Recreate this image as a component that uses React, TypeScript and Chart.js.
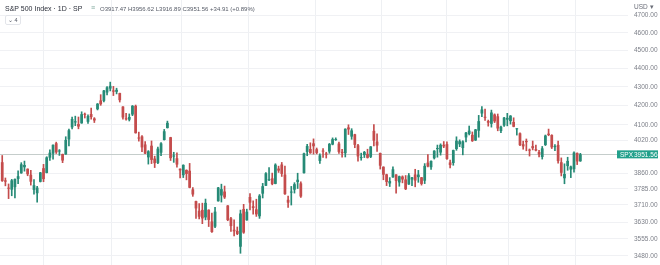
import { useEffect, useRef } from "react";
import { Chart, registerables } from "chart.js";

Chart.register(...registerables);

// Daily sessions, S&P 500 index
const dates = [
  "2022-06-28", "2022-06-29", "2022-06-30",
  "2022-07-01", "2022-07-05", "2022-07-06", "2022-07-07", "2022-07-08", "2022-07-11", "2022-07-12", "2022-07-13", "2022-07-14", "2022-07-15",
  "2022-07-18", "2022-07-19", "2022-07-20", "2022-07-21", "2022-07-22", "2022-07-25", "2022-07-26", "2022-07-27", "2022-07-28", "2022-07-29",
  "2022-08-01", "2022-08-02", "2022-08-03", "2022-08-04", "2022-08-05", "2022-08-08", "2022-08-09", "2022-08-10", "2022-08-11", "2022-08-12",
  "2022-08-15", "2022-08-16", "2022-08-17", "2022-08-18", "2022-08-19", "2022-08-22", "2022-08-23", "2022-08-24", "2022-08-25", "2022-08-26",
  "2022-08-29", "2022-08-30", "2022-08-31",
  "2022-09-01", "2022-09-02", "2022-09-06", "2022-09-07", "2022-09-08", "2022-09-09", "2022-09-12", "2022-09-13", "2022-09-14", "2022-09-15",
  "2022-09-16", "2022-09-19", "2022-09-20", "2022-09-21", "2022-09-22", "2022-09-23", "2022-09-26", "2022-09-27", "2022-09-28", "2022-09-29",
  "2022-09-30",
  "2022-10-03", "2022-10-04", "2022-10-05", "2022-10-06", "2022-10-07", "2022-10-10", "2022-10-11", "2022-10-12", "2022-10-13", "2022-10-14",
  "2022-10-17", "2022-10-18", "2022-10-19", "2022-10-20", "2022-10-21", "2022-10-24", "2022-10-25", "2022-10-26", "2022-10-27", "2022-10-28",
  "2022-10-31",
  "2022-11-01", "2022-11-02", "2022-11-03", "2022-11-04", "2022-11-07", "2022-11-08", "2022-11-09", "2022-11-10", "2022-11-11", "2022-11-14",
  "2022-11-15", "2022-11-16", "2022-11-17", "2022-11-18", "2022-11-21", "2022-11-22", "2022-11-23", "2022-11-25", "2022-11-28", "2022-11-29",
  "2022-11-30",
  "2022-12-01", "2022-12-02", "2022-12-05", "2022-12-06", "2022-12-07", "2022-12-08", "2022-12-09", "2022-12-12", "2022-12-13", "2022-12-14",
  "2022-12-15", "2022-12-16", "2022-12-19", "2022-12-20", "2022-12-21", "2022-12-22", "2022-12-23", "2022-12-27", "2022-12-28", "2022-12-29",
  "2022-12-30",
  "2023-01-03", "2023-01-04", "2023-01-05", "2023-01-06", "2023-01-09", "2023-01-10", "2023-01-11", "2023-01-12", "2023-01-13", "2023-01-17",
  "2023-01-18", "2023-01-19", "2023-01-20", "2023-01-23", "2023-01-24", "2023-01-25", "2023-01-26", "2023-01-27", "2023-01-30", "2023-01-31",
  "2023-02-01", "2023-02-02", "2023-02-03", "2023-02-06", "2023-02-07", "2023-02-08", "2023-02-09", "2023-02-10", "2023-02-13", "2023-02-14",
  "2023-02-15", "2023-02-16", "2023-02-17", "2023-02-21", "2023-02-22", "2023-02-23", "2023-02-24", "2023-02-27", "2023-02-28",
  "2023-03-01", "2023-03-02", "2023-03-03", "2023-03-06", "2023-03-07", "2023-03-08", "2023-03-09", "2023-03-10", "2023-03-13", "2023-03-14",
  "2023-03-15", "2023-03-16", "2023-03-17", "2023-03-20",
];

const opens = [
  3913.0, 3825.1, 3786.0,
  3781.0, 3792.6, 3832.0, 3858.9, 3888.3, 3880.9, 3851.9, 3779.7, 3764.0, 3818.0,
  3883.8, 3860.7, 3935.3, 3955.5, 4007.0, 3965.7, 3953.2, 3951.4, 4026.1, 4087.3,
  4112.4, 4104.2, 4108.0, 4154.9, 4115.9, 4155.9, 4133.1, 4181.0, 4227.4, 4225.0,
  4269.4, 4290.5, 4280.4, 4273.1, 4266.3, 4195.1, 4133.1, 4126.6, 4153.3, 4198.7,
  4034.6, 4041.3, 4000.7,
  3936.7, 3994.7, 3930.9, 3909.4, 3959.9, 4022.9, 4083.7, 4037.1, 3940.7, 3932.4,
  3881.0, 3849.9, 3875.2, 3871.4, 3782.4, 3727.1, 3682.7, 3686.4, 3651.9, 3687.0,
  3633.5,
  3609.8, 3726.5, 3753.3, 3772.0, 3706.7, 3647.5, 3595.9, 3590.8, 3520.4, 3690.4,
  3638.7, 3746.3, 3703.1, 3689.1, 3657.1, 3762.0, 3799.4, 3826.0, 3834.7, 3808.3,
  3881.9,
  3901.8, 3852.9, 3733.3, 3767.0, 3780.7, 3817.0, 3810.9, 3859.9, 3963.7, 3978.0,
  4006.4, 3976.8, 3919.3, 3966.4, 3956.2, 3965.5, 4000.3, 4023.3, 4005.4, 3964.2,
  3957.2,
  4087.1, 4040.2, 4052.0, 3996.6, 3933.3, 3947.8, 3954.2, 3939.3, 4069.4, 4015.5,
  3958.4, 3890.9, 3853.8, 3810.5, 3839.5, 3853.3, 3815.1, 3843.3, 3829.6, 3805.5,
  3829.1,
  3853.3, 3840.4, 3839.7, 3823.4, 3910.8, 3888.6, 3932.4, 3977.6, 3960.6, 3999.3,
  4002.3, 3911.8, 3909.0, 3978.1, 4001.7, 3982.7, 4036.1, 4053.7, 4049.3, 4020.9,
  4070.1, 4158.7, 4136.7, 4119.6, 4105.3, 4153.5, 4144.3, 4068.9, 4096.6, 4126.7,
  4119.5, 4114.8, 4077.4, 4057.0, 4001.8, 4018.6, 3973.2, 3992.4, 3977.2,
  3963.3, 3938.7, 3998.0, 4055.2, 4048.3, 3987.6, 3998.7, 3912.8, 3835.1, 3894.0,
  3876.7, 3878.9, 3958.7, 3917.47,
];

const highs = [
  3945.9, 3836.5, 3808.0,
  3829.8, 3832.2, 3870.9, 3910.6, 3918.5, 3880.9, 3873.4, 3829.4, 3796.4, 3863.6,
  3902.4, 3939.8, 3974.1, 3999.3, 4012.4, 3975.3, 3953.2, 4039.6, 4078.9, 4140.2,
  4145.0, 4140.5, 4167.7, 4161.3, 4151.6, 4186.6, 4137.3, 4211.0, 4257.9, 4280.5,
  4301.8, 4325.3, 4302.2, 4292.5, 4266.3, 4195.1, 4159.8, 4156.6, 4200.5, 4203.0,
  4063.0, 4045.0, 4015.4,
  3970.2, 4018.4, 3942.6, 3987.9, 4010.5, 4076.8, 4119.3, 4037.1, 3961.9, 3959.1,
  3881.0, 3900.4, 3876.0, 3907.1, 3790.8, 3727.1, 3715.7, 3717.5, 3736.7, 3687.0,
  3671.4,
  3698.4, 3791.9, 3806.9, 3797.9, 3706.7, 3652.2, 3640.7, 3608.3, 3685.4, 3712.0,
  3689.7, 3762.8, 3728.6, 3736.0, 3757.9, 3810.7, 3862.9, 3886.2, 3860.0, 3905.4,
  3893.7,
  3911.8, 3894.4, 3750.6, 3796.3, 3813.9, 3859.4, 3818.2, 3958.3, 4001.5, 4009.0,
  4028.8, 3983.1, 3954.3, 3979.9, 3962.0, 4005.9, 4033.8, 4034.0, 4012.3, 3976.8,
  4080.1,
  4100.5, 4080.5, 4052.5, 4001.5, 3957.6, 3966.4, 3977.0, 3990.7, 4101.0, 4053.8,
  3958.4, 3890.9, 3854.9, 3838.2, 3889.8, 3853.3, 3845.8, 3846.7, 3848.3, 3858.2,
  3839.9,
  3878.5, 3873.2, 3839.7, 3906.2, 3950.6, 3919.8, 3970.1, 3997.8, 4004.0, 4015.4,
  4014.2, 3922.9, 3973.0, 4039.3, 4023.9, 4019.6, 4061.6, 4094.2, 4063.9, 4077.2,
  4149.0, 4195.4, 4182.4, 4124.6, 4176.5, 4156.9, 4156.2, 4094.4, 4138.9, 4159.8,
  4148.1, 4136.5, 4081.5, 4059.0, 4017.4, 4028.3, 3978.3, 4018.1, 3997.5,
  3971.7, 3990.8, 4048.3, 4078.5, 4050.0, 4000.4, 4017.8, 3934.1, 3905.1, 3937.3,
  3894.3, 3964.5, 3958.9, 3956.62,
];

const lows = [
  3820.1, 3799.0, 3738.7,
  3752.1, 3742.1, 3809.4, 3858.9, 3869.3, 3847.2, 3802.4, 3759.1, 3721.6, 3817.2,
  3818.6, 3860.7, 3922.0, 3927.6, 3955.8, 3946.3, 3910.7, 3951.4, 3993.0, 4079.2,
  4096.0, 4079.8, 4108.0, 4135.4, 4107.3, 4129.0, 4112.1, 4177.3, 4201.4, 4219.8,
  4256.9, 4277.8, 4253.1, 4262.0, 4218.7, 4129.9, 4124.0, 4120.0, 4147.6, 4057.7,
  4017.4, 3965.2, 3954.5,
  3903.7, 3906.2, 3886.8, 3906.0, 3944.8, 4022.9, 4083.7, 3921.3, 3912.2, 3888.3,
  3837.1, 3838.5, 3827.5, 3789.5, 3749.4, 3647.5, 3644.8, 3623.3, 3640.6, 3610.4,
  3584.1,
  3604.9, 3726.5, 3722.7, 3739.2, 3636.7, 3588.1, 3568.5, 3573.9, 3491.6, 3579.7,
  3638.7, 3686.5, 3666.5, 3656.4, 3647.4, 3741.7, 3799.4, 3824.1, 3803.8, 3808.3,
  3863.2,
  3843.8, 3758.7, 3698.2, 3708.8, 3764.7, 3786.3, 3744.2, 3859.9, 3944.8, 3956.4,
  3953.2, 3954.3, 3906.5, 3936.0, 3933.3, 3956.9, 3998.7, 4020.8, 3955.8, 3937.7,
  3938.6,
  4050.9, 4026.6, 3984.5, 3918.4, 3922.7, 3935.8, 3933.0, 3935.3, 3993.0, 3965.7,
  3879.5, 3827.9, 3800.0, 3795.6, 3839.5, 3764.5, 3797.0, 3813.2, 3780.8, 3805.5,
  3800.3,
  3794.3, 3815.8, 3802.4, 3809.6, 3890.4, 3877.3, 3928.5, 3937.6, 3947.7, 3984.6,
  3926.6, 3885.5, 3897.9, 3971.6, 3989.8, 3949.1, 4013.3, 4048.7, 4015.6, 4020.4,
  4037.2, 4141.9, 4123.4, 4093.4, 4088.4, 4111.7, 4069.7, 4060.8, 4092.7, 4095.0,
  4104.0, 4089.9, 4048.0, 3995.2, 3976.9, 3969.2, 3943.1, 3973.6, 3969.0,
  3939.1, 3928.2, 3995.2, 4044.6, 3980.3, 3969.8, 3908.7, 3846.3, 3808.9, 3873.6,
  3838.2, 3864.1, 3901.3, 3916.89,
];

const closes = [
  3821.6, 3818.8, 3785.4,
  3825.3, 3831.4, 3845.1, 3902.6, 3899.4, 3854.4, 3818.8, 3801.8, 3790.4, 3863.2,
  3830.9, 3936.7, 3959.9, 3999.0, 3961.6, 3966.8, 3921.1, 4023.6, 4072.4, 4130.3,
  4118.6, 4091.2, 4155.2, 4151.9, 4145.2, 4140.1, 4122.5, 4210.2, 4207.3, 4280.2,
  4297.1, 4305.2, 4274.0, 4283.7, 4228.5, 4138.0, 4128.7, 4140.8, 4199.1, 4057.7,
  4030.6, 3986.2, 3955.0,
  3966.9, 3924.3, 3908.2, 3979.9, 4006.2, 4067.4, 4110.4, 3932.7, 3946.0, 3901.4,
  3873.3, 3899.9, 3855.9, 3789.9, 3758.0, 3693.2, 3655.0, 3647.3, 3719.0, 3640.5,
  3585.6,
  3678.4, 3790.9, 3783.3, 3744.5, 3639.7, 3612.4, 3588.8, 3577.0, 3669.9, 3583.1,
  3678.0, 3720.0, 3695.2, 3665.8, 3752.8, 3797.3, 3859.1, 3830.6, 3807.3, 3901.1,
  3872.0,
  3856.1, 3759.7, 3719.9, 3770.6, 3806.8, 3828.1, 3748.6, 3956.4, 3992.9, 3957.3,
  3991.7, 3958.8, 3946.6, 3965.3, 3949.9, 4003.6, 4027.3, 4026.1, 3963.9, 3957.6,
  4080.1,
  4076.6, 4071.7, 3998.8, 3941.3, 3933.9, 3963.5, 3934.4, 3990.6, 4019.7, 3995.3,
  3895.8, 3852.4, 3817.7, 3821.6, 3878.4, 3822.4, 3844.8, 3829.3, 3783.2, 3849.3,
  3839.5,
  3824.1, 3853.0, 3808.1, 3895.1, 3892.1, 3919.3, 3969.6, 3983.2, 3999.1, 3991.0,
  3928.9, 3898.9, 3972.6, 4019.8, 4017.0, 4016.2, 4060.4, 4070.6, 4017.8, 4076.6,
  4119.2, 4179.8, 4136.5, 4111.1, 4164.0, 4117.9, 4081.5, 4090.5, 4137.3, 4136.1,
  4147.6, 4090.4, 4079.1, 3997.3, 3991.1, 4012.3, 3970.0, 3982.2, 3970.2,
  3951.4, 3981.4, 4045.6, 4048.4, 3986.4, 3992.0, 3918.3, 3861.6, 3855.8, 3919.3,
  3891.9, 3960.3, 3916.65, 3951.56,
];

// Labels shown on the price axis
const priceTicks = [4700, 4600, 4500, 4400, 4300, 4200, 4100, 4020, 3860, 3785, 3710, 3630, 3555, 3480];

const symbol = "SPX";
const title = "S&P 500 Index · 1D · SP";
const currency = "USD";
const indicatorCount = 4;

// Sessions between the last bar and the first April session
const sessionsToNextMonth = 10;

const UP = "#268a76";
const DOWN = "#c44c4c";
const FONT = "'Liberation Sans', Arial, sans-serif";

export default function App() {
  const canvasRef = useRef<HTMLCanvasElement>(null);

  const last = closes.length - 1;
  const change = closes[last] - closes[last - 1];
  const pct = (change / closes[last - 1]) * 100;
  const sign = change >= 0 ? "+" : "";
  const ohlc = `O${opens[last].toFixed(2)} H${highs[last].toFixed(2)} L${lows[last].toFixed(2)} C${closes[last].toFixed(2)} ${sign}${change.toFixed(2)} (${sign}${pct.toFixed(2)}%)`;

  useEffect(() => {
    document.body.style.margin = "0";
    const canvas = canvasRef.current;
    if (!canvas) return;

    const colorOf = (i: number) => (closes[i] >= opens[i] ? UP : DOWN);
    const colors = closes.map((_, i) => colorOf(i));
    const bodies = closes.map((c, i) => ({ x: i, y: [opens[i], c] }));
    const wicks = closes.map((_, i) => ({ x: i, y: [lows[i], highs[i]] }));

    const monthStarts: number[] = [];
    dates.forEach((d, i) => {
      if (i > 0 && d.slice(5, 7) !== dates[i - 1].slice(5, 7)) monthStarts.push(i);
    });
    monthStarts.push(last + sessionsToNextMonth);

    const lastClose = closes[last];

    const overlay = {
      id: "priceOverlay",
      beforeDatasetsDraw(chart: any) {
        const { ctx, chartArea, scales } = chart;
        const y = Math.round(scales.y.getPixelForValue(lastClose)) + 0.5;
        ctx.save();
        ctx.strokeStyle = "#c5cdcb";
        ctx.lineWidth = 1;
        ctx.beginPath();
        ctx.moveTo(chartArea.left, y);
        ctx.lineTo(chartArea.right, y);
        ctx.stroke();
        ctx.restore();
      },
      afterDraw(chart: any) {
        const { ctx, chartArea, scales } = chart;
        const y = scales.y.getPixelForValue(lastClose);
        ctx.save();
        ctx.font = `6.5px ${FONT}`;
        ctx.textBaseline = "middle";
        // symbol + last price tag
        const x0 = 617;
        const h = 8;
        ctx.fillStyle = "#22a08b";
        ctx.fillRect(x0, y - h / 2, 660 - 2 - x0, h);
        ctx.fillStyle = "#ffffff";
        ctx.textAlign = "left";
        ctx.fillText(symbol, x0 + 3, y + 0.5);
        ctx.fillText(lastClose.toFixed(2), chartArea.right + 6, y + 0.5);
        // currency label
        ctx.fillStyle = "#6a6d78";
        ctx.fillText(`${currency} ▾`, chartArea.right + 6, 7);
        ctx.restore();
      },
    };

    const chart = new Chart(canvas, {
      type: "bar",
      data: {
        datasets: [
          {
            data: bodies as any,
            backgroundColor: colors,
            barPercentage: 0.86,
            categoryPercentage: 1,
            grouped: false,
            minBarLength: 1,
            order: 0,
          },
          {
            data: wicks as any,
            backgroundColor: colors,
            barThickness: 1,
            grouped: false,
            order: 1,
          },
        ],
      },
      options: {
        animation: false,
        responsive: false,
        maintainAspectRatio: false,
        layout: { padding: 0 },
        plugins: {
          legend: { display: false },
          tooltip: { enabled: false },
        },
        scales: {
          x: {
            type: "linear",
            min: -0.7,
            max: 197,
            offset: false,
            grid: { color: "#eef0f3", drawTicks: false },
            border: { display: false },
            ticks: { display: false },
            afterBuildTicks: (s: any) => {
              s.ticks = monthStarts.map((v) => ({ value: v }));
            },
            afterFit: (s: any) => {
              s.height = 0;
              s.paddingLeft = 0;
              s.paddingRight = 0;
            },
          },
          y: {
            type: "logarithmic",
            position: "right",
            min: 3440.8,
            max: 4793.2,
            grid: { color: "#f0f1f4", drawTicks: false },
            border: { display: false },
            ticks: {
              padding: 6,
              color: "#7c7f88",
              autoSkip: false,
              font: { size: 6.5, family: FONT },
              callback: (v: any) => Number(v).toFixed(2),
            },
            afterBuildTicks: (s: any) => {
              s.ticks = priceTicks.map((v) => ({ value: v }));
            },
            afterFit: (s: any) => {
              s.width = 32;
              s.paddingTop = 0;
              s.paddingBottom = 0;
            },
          },
        },
      },
      plugins: [overlay],
    });

    return () => chart.destroy();
  }, []);

  return (
    <div style={{ position: "relative", width: 660, height: 265, fontFamily: FONT, background: "#fff" }}>
      <canvas ref={canvasRef} width={660} height={265} style={{ display: "block" }} />
      <div
        style={{
          position: "absolute",
          left: 5,
          top: 5,
          fontSize: 7,
          lineHeight: "8px",
          color: "#2a2e39",
          whiteSpace: "nowrap",
        }}
      >
        {title}
      </div>
      <div
        style={{
          position: "absolute",
          left: 91,
          top: 4,
          fontSize: 7,
          lineHeight: "8px",
          color: "#7fa89c",
        }}
      >
        ≡
      </div>
      <div
        style={{
          position: "absolute",
          left: 100,
          top: 5.5,
          fontSize: 6,
          lineHeight: "7px",
          color: "#555a66",
          whiteSpace: "nowrap",
        }}
      >
        {ohlc}
      </div>
      <div
        style={{
          position: "absolute",
          left: 5,
          top: 15,
          height: 8,
          padding: "0 2px",
          border: "1px solid #e3e5ea",
          borderRadius: 2,
          fontSize: 5.5,
          lineHeight: "8px",
          color: "#555a66",
          whiteSpace: "nowrap",
        }}
      >
        ⌄ {indicatorCount}
      </div>
    </div>
  );
}
